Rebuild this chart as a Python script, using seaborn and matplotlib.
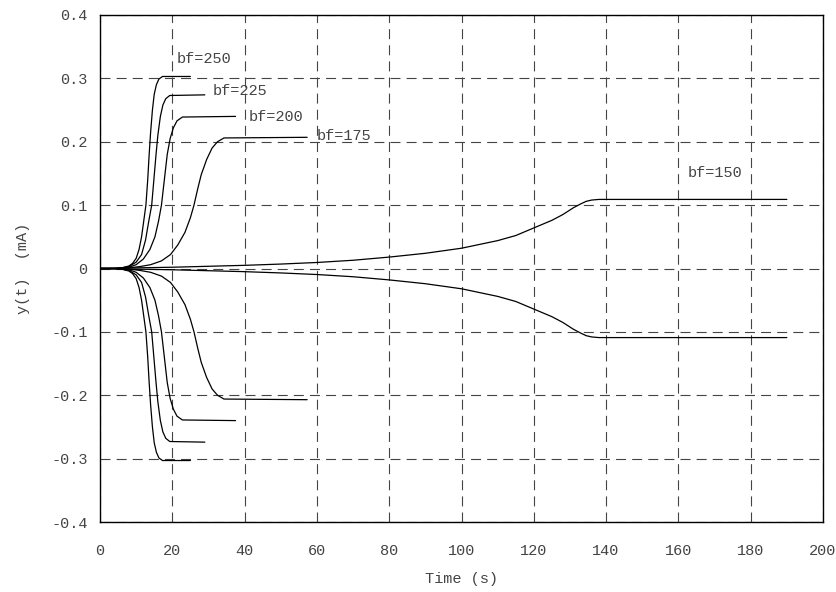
import pandas as pd
import matplotlib
matplotlib.use("Agg")
import matplotlib.pyplot as plt
import seaborn as sns

# --- datos (rama positiva; la negativa es simetrica) ---
t_250 = [0, 4, 6, 8, 9, 10, 10.8, 11.5, 12.1, 12.7, 13.2, 13.6, 14.0, 14.5, 15.0, 15.6, 16.3, 17.3, 25]
y_250 = [0, 0, 0.001, 0.004, 0.008, 0.016, 0.03, 0.05, 0.075, 0.10, 0.14, 0.18, 0.215, 0.25, 0.275, 0.29, 0.299, 0.303, 0.303]

t_225 = [0, 4, 6, 8, 10, 11.5, 12.6, 13.5, 14.3, 14.9, 15.5, 16.0, 16.7, 17.4, 18.2, 19.3, 29]
y_225 = [0, 0, 0.001, 0.003, 0.010, 0.022, 0.045, 0.075, 0.10, 0.14, 0.18, 0.21, 0.24, 0.258, 0.268, 0.273, 0.274]

t_200 = [0, 4, 6, 8, 10, 12, 13.8, 15.2, 16.2, 17, 17.8, 18.6, 19.4, 20.3, 21.3, 22.8, 37.5]
y_200 = [0, 0, 0.001, 0.002, 0.006, 0.015, 0.03, 0.05, 0.075, 0.10, 0.14, 0.18, 0.205, 0.222, 0.233, 0.239, 0.240]

t_175 = [0, 5, 8, 11, 14, 17, 19.5, 21.5, 23.5, 25, 26, 27, 28, 29.5, 31, 32.5, 34.3, 57.3]
y_175 = [0, 0, 0.001, 0.003, 0.006, 0.012, 0.022, 0.037, 0.057, 0.08, 0.10, 0.125, 0.148, 0.172, 0.19, 0.20, 0.206, 0.207]

t_150 = [0, 10, 20, 30, 40, 50, 60, 70, 80, 90, 100, 110, 115, 120, 125, 128, 131, 133, 134.5, 136, 138, 190]
y_150 = [0, 0.001, 0.002, 0.0035, 0.005, 0.007, 0.0095, 0.013, 0.018, 0.024, 0.032, 0.044, 0.052, 0.064, 0.076, 0.085, 0.096, 0.102, 0.106, 0.108, 0.109, 0.109]

curvas = {"250": (t_250, y_250), "225": (t_225, y_225), "200": (t_200, y_200),
          "175": (t_175, y_175), "150": (t_150, y_150)}

etiquetas = ["bf=250", "bf=225", "bf=200", "bf=175", "bf=150"]
etiq_x = [21.2, 31.1, 41.0, 59.9, 162.5]
etiq_y = [0.331, 0.280, 0.239, 0.209, 0.150]

filas = []
for bf, (tt, yy) in curvas.items():
    for signo, rama in [(1, "pos"), (-1, "neg")]:
        for t, y in zip(tt, yy):
            filas.append({"t": t, "y": signo * y, "curva": bf + rama})
df = pd.DataFrame(filas)

sns.set_style("white")
plt.rcParams["font.family"] = ["Liberation Mono", "DejaVu Sans Mono"]
gris = "#444444"
fs = 11

fig = plt.figure(figsize=(8.36, 5.92), dpi=100)
ax = fig.add_axes([100 / 836, 70 / 592, 723 / 836, 507 / 592])

sns.lineplot(data=df, x="t", y="y", units="curva", estimator=None, sort=False,
             color="black", linewidth=0.9, ax=ax, legend=False)

for txt, x, y in zip(etiquetas, etiq_x, etiq_y):
    ax.text(x, y, txt, fontsize=fs, color=gris, va="center", ha="left")

ax.set_xlim(0, 200)
ax.set_ylim(-0.4, 0.4)
ax.set_xticks(range(0, 201, 20))
ax.set_yticks([-0.4, -0.3, -0.2, -0.1, 0, 0.1, 0.2, 0.3, 0.4])
ax.set_yticklabels(["-0.4", "-0.3", "-0.2", "-0.1", "0", "0.1", "0.2", "0.3", "0.4"])
ax.grid(True, color="#444444", linewidth=0.8, linestyle=(0, (9, 5.5)))
ax.tick_params(length=0, labelsize=fs, labelcolor=gris)
ax.tick_params(axis="x", pad=16)
ax.tick_params(axis="y", pad=9)
for s in ax.spines.values():
    s.set_color("black")
    s.set_linewidth(1.0)

ax.set_xlabel("Time (s)", fontsize=fs, color=gris, labelpad=10)
ax.set_ylabel("y(t)  (mA)", fontsize=fs, color=gris, labelpad=15)

fig.savefig("out.png", dpi=100)
